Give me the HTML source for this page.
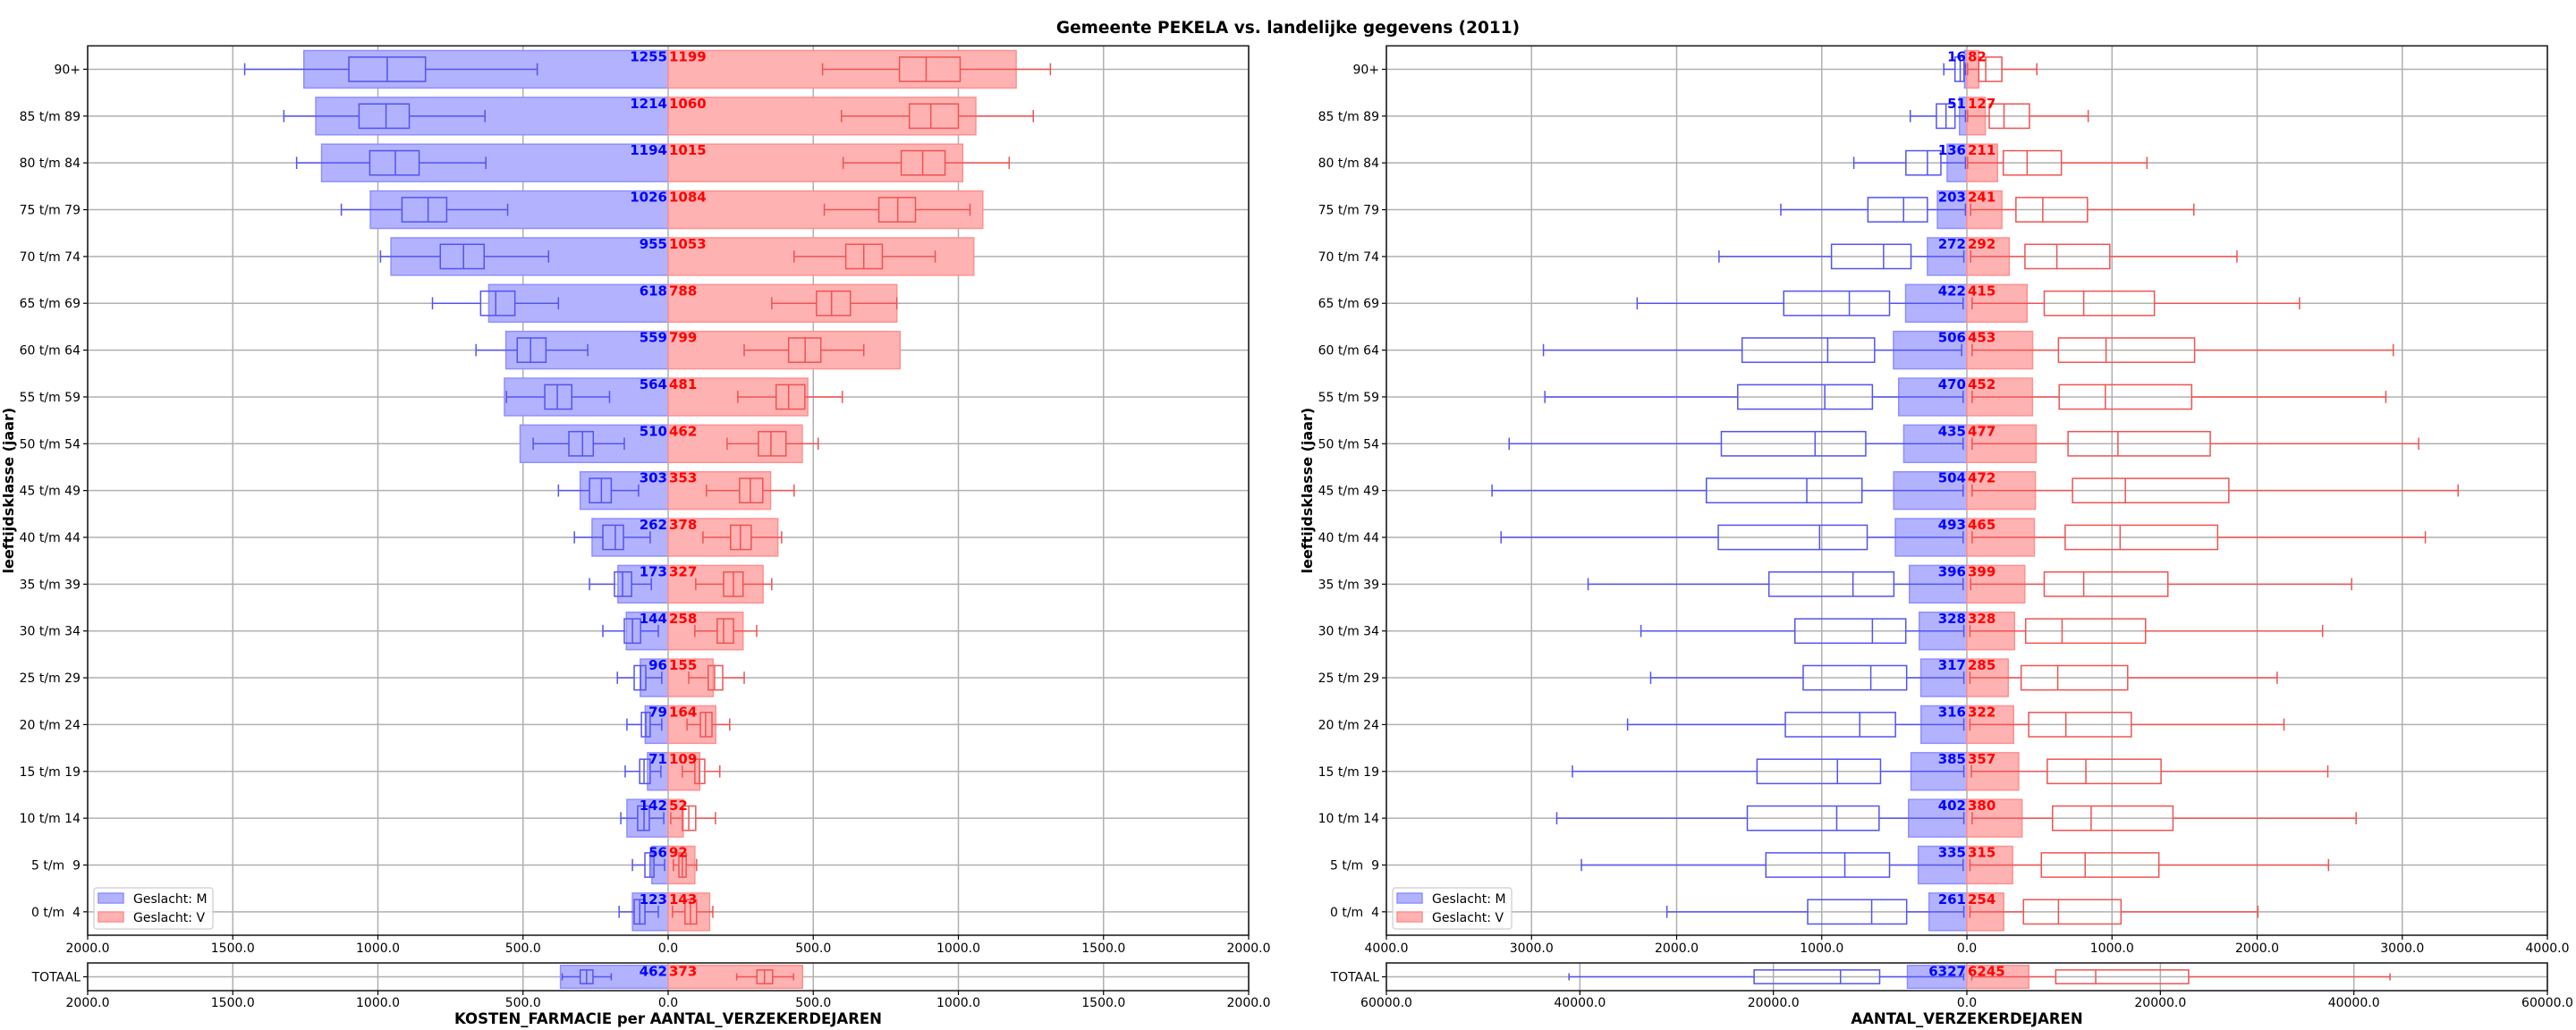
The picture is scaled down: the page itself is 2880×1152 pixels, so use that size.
<!DOCTYPE html>
<html><head><meta charset="utf-8">
<style>
html,body{margin:0;padding:0;background:#fff;}
svg{display:block;font-family:"DejaVu Sans","Liberation Sans",sans-serif;}
.pre{white-space:pre;}
</style></head>
<body>
<svg id="chart" width="2880" height="1152" viewBox="0 0 2880 1152" xmlns="http://www.w3.org/2000/svg">
<text x="1440" y="37" text-anchor="middle" font-size="18.5" font-weight="bold">Gemeente PEKELA vs. landelijke gegevens (2011)</text>
</svg>
<script>
const ages = ['90+','85 t/m 89','80 t/m 84','75 t/m 79','70 t/m 74','65 t/m 69','60 t/m 64','55 t/m 59','50 t/m 54','45 t/m 49','40 t/m 44','35 t/m 39','30 t/m 34','25 t/m 29','20 t/m 24','15 t/m 19','10 t/m 14','5 t/m  9','0 t/m  4'];
const costM = [1255,1214,1194,1026,955,618,559,564,510,303,262,173,144,96,79,71,142,56,123];
const costV = [1199,1060,1015,1084,1053,788,799,481,462,353,378,327,258,155,164,109,52,92,143];
const costBoxM = [[451,836,968,1100,1459],[631,892,972,1065,1324],[628,858,940,1028,1280],[553,763,827,917,1126],[412,634,705,785,991],[378,528,594,646,812],[277,421,474,520,662],[202,332,382,425,557],[151,258,295,342,465],[102,196,230,271,378],[62,154,182,225,323],[58,126,157,185,271],[34,95,123,151,225],[22,77,95,117,175],[22,62,77,92,142],[25,62,83,98,148],[15,65,83,105,163],[12,49,62,80,123],[34,80,98,117,169]];
const costBoxV = [[532,797,889,1006,1317],[597,831,905,1000,1258],[603,803,877,954,1175],[538,726,791,852,1040],[434,612,674,738,920],[357,511,563,628,788],[262,415,472,526,674],[240,372,415,471,600],[203,311,354,406,517],[132,246,283,326,434],[120,215,249,286,391],[95,191,225,258,357],[92,169,191,225,305],[71,138,160,188,262],[65,111,129,151,212],[49,92,108,126,178],[9,49,71,95,163],[18,37,49,62,98],[15,58,77,98,154]];
const countM = [16,51,136,203,272,422,506,470,435,504,493,396,328,317,316,385,402,335,261];
const countV = [82,127,211,241,292,415,453,452,477,472,465,399,328,285,322,357,380,315,254];
const countBoxM = [[10,20,46,82,159],[10,82,144,210,390],[10,179,272,420,779],[10,272,436,682,1282],[21,385,574,933,1708],[26,533,810,1262,2272],[36,636,959,1549,2918],[26,651,979,1579,2908],[26,697,1046,1692,3154],[26,723,1103,1795,3272],[26,687,1015,1713,3210],[26,503,785,1364,2610],[21,421,651,1185,2246],[21,415,662,1128,2179],[21,492,738,1251,2338],[21,595,892,1446,2718],[21,605,897,1513,2826],[26,533,841,1385,2656],[21,415,656,1097,2067]];
const countBoxV = [[5,82,130,241,482],[5,154,256,431,836],[5,251,415,651,1241],[26,338,523,831,1564],[26,400,620,985,1861],[36,533,805,1292,2292],[36,631,959,1569,2938],[36,636,954,1549,2887],[36,697,1041,1677,3113],[36,728,1092,1805,3385],[36,677,1056,1728,3159],[26,533,805,1385,2651],[21,405,656,1231,2451],[21,374,626,1108,2138],[21,426,682,1133,2185],[31,554,820,1338,2487],[36,590,856,1420,2682],[21,513,815,1323,2492],[21,390,631,1062,2005]];
const costTotalBars = [371,463];
const costTotalLabels = [462,373];
const costTotalBoxM = [196,259,281,303,365];
const costTotalBoxV = [236,306,332,360,432];
const countTotalBars = [6150,6400];
const countTotalLabels = [6327,6245];
const countTotalBoxM = [337,9017,13062,21995,41124];
const countTotalBoxV = [506,9185,13315,22921,43736];
const costTicks = [-2000,-1500,-1000,-500,0,500,1000,1500,2000];
const countTicks = [-4000,-3000,-2000,-1000,0,1000,2000,3000,4000];
const countTotalTicks = [-60000,-40000,-20000,0,20000,40000,60000];

const NS='http://www.w3.org/2000/svg';
const svg=document.getElementById('chart');
function el(tag,attrs,parent){const e=document.createElementNS(NS,tag);for(const k in attrs)e.setAttribute(k,attrs[k]);(parent||svg).appendChild(e);return e;}
const BLUE_FILL='#b2b2ff',BLUE_EDGE='#8f8fff',RED_FILL='#ffb2b2',RED_EDGE='#ff9090',BLUE_LINE='#5454ee',RED_LINE='#ee5454';
const MAIN_TOP=51.3,MAIN_BOT=1046,TOT_TOP=1077,TOT_BOT=1108,AXW=1298;
const ROWH=(MAIN_BOT-MAIN_TOP)/ages.length;
const FS=14;
function rowY(i){return MAIN_TOP+(i+0.5)*ROWH;}
function fmt(v){return Math.abs(v).toFixed(1);}

function drawBox(g,xs,y,vals,sign,color,bh,capH,name){
  const b=el('g',{},g);
  
  
  const X=v=>xs(sign*v);
  const st={stroke:color,'stroke-width':1.5,fill:'none'};
  el('line',Object.assign({x1:X(vals[0]),x2:X(vals[1]),y1:y,y2:y},st),b);
  el('line',Object.assign({x1:X(vals[3]),x2:X(vals[4]),y1:y,y2:y},st),b);
  el('line',Object.assign({x1:X(vals[0]),x2:X(vals[0]),y1:y-capH/2,y2:y+capH/2},st),b);
  el('line',Object.assign({x1:X(vals[4]),x2:X(vals[4]),y1:y-capH/2,y2:y+capH/2},st),b);
  const a=Math.min(X(vals[1]),X(vals[3])),w=Math.abs(X(vals[3])-X(vals[1]));
  el('rect',Object.assign({x:a,y:y-bh/2,width:w,height:bh},st),b);
  el('line',Object.assign({x1:X(vals[2]),x2:X(vals[2]),y1:y-bh/2,y2:y+bh/2},st),b);
}

function panel(opt){
  const x0=opt.left,max=opt.max;
  const xs=v=>x0+(v+max)/(2*max)*AXW;
  const g=el('g',{});
  
  
  opt.ticks.forEach(t=>{el('line',{x1:xs(t),x2:xs(t),y1:MAIN_TOP,y2:MAIN_BOT,stroke:'#b0b0b0','stroke-width':1.5},g);});
  ages.forEach((a,i)=>{el('line',{x1:x0,x2:x0+AXW,y1:rowY(i),y2:rowY(i),stroke:'#b0b0b0','stroke-width':1.5},g);});
  const bh=ROWH*0.8;
  ages.forEach((a,i)=>{
    const y=rowY(i);
    const bm=el('rect',{x:xs(-opt.barsM[i]),y:y-bh/2,width:xs(0)-xs(-opt.barsM[i]),height:bh,fill:BLUE_FILL,stroke:BLUE_EDGE,'stroke-width':1.5},g);
    
    
    const bv=el('rect',{x:xs(0),y:y-bh/2,width:xs(opt.barsV[i])-xs(0),height:bh,fill:RED_FILL,stroke:RED_EDGE,'stroke-width':1.5},g);
    
    
  });
  ages.forEach((a,i)=>{
    const y=rowY(i);
    drawBox(g,xs,y,opt.boxM[i],-1,BLUE_LINE,ROWH*0.52,ROWH*0.26,'boxplot-m-'+i);
    drawBox(g,xs,y,opt.boxV[i],1,RED_LINE,ROWH*0.52,ROWH*0.26,'boxplot-v-'+i);
  });
  ages.forEach((a,i)=>{
    const y=rowY(i)-bh/2+12;
    const tm=el('text',{x:xs(0)-1,y:y,'text-anchor':'end','font-size':FS+1,'font-weight':'bold',fill:'#0000ff'},g);
    tm.textContent=opt.barsM[i];
    
    
    const tv=el('text',{x:xs(0)+1,y:y,'font-size':FS+1,'font-weight':'bold',fill:'#ff0000'},g);
    tv.textContent=opt.barsV[i];
    
    
    const yl=el('text',{x:x0-8,y:rowY(i)+5,'text-anchor':'end','font-size':FS,'class':'pre'},g);
    yl.textContent=a;
    
    
    el('line',{x1:x0-5,x2:x0,y1:rowY(i),y2:rowY(i),stroke:'#000','stroke-width':1.2},g);
  });
  el('rect',{x:x0,y:MAIN_TOP,width:AXW,height:MAIN_BOT-MAIN_TOP,fill:'none',stroke:'#222','stroke-width':1.6},g);
  opt.ticks.forEach(t=>{
    el('line',{x1:xs(t),x2:xs(t),y1:MAIN_BOT,y2:MAIN_BOT+5,stroke:'#000','stroke-width':1.2},g);
    const tl=el('text',{x:xs(t),y:MAIN_BOT+19,'text-anchor':'middle','font-size':FS},g);
    tl.textContent=fmt(t);
    
    
  });
  const yt=el('text',{transform:`translate(${opt.ylabX},${(MAIN_TOP+MAIN_BOT)/2}) rotate(-90)`,'text-anchor':'middle','font-size':16,'font-weight':'bold'},g);
  yt.textContent='leeftijdsklasse (jaar)';
  
  
  const lg=el('g',{},g);
  
  
  const lx=x0+7,ly=993;
  el('rect',{x:lx,y:ly,width:133,height:46,rx:3,fill:'#fff','fill-opacity':0.85,stroke:'#cccccc','stroke-width':1.2},lg);
  el('rect',{x:lx+5,y:ly+6,width:28,height:11,fill:BLUE_FILL,stroke:BLUE_EDGE,'stroke-width':1.5},lg);
  el('rect',{x:lx+5,y:ly+27,width:28,height:11,fill:RED_FILL,stroke:RED_EDGE,'stroke-width':1.5},lg);
  const l1=el('text',{x:lx+44,y:ly+17,'font-size':FS},lg);l1.textContent='Geslacht: M';
  
  
  const l2=el('text',{x:lx+44,y:ly+38,'font-size':FS},lg);l2.textContent='Geslacht: V';
  
  

  const tmax=opt.tmax;
  const ts=v=>x0+(v+tmax)/(2*tmax)*AXW;
  const tg=el('g',{},g);
  
  
  const ty=(TOT_TOP+TOT_BOT)/2;
  opt.tticks.forEach(t=>{el('line',{x1:ts(t),x2:ts(t),y1:TOT_TOP,y2:TOT_BOT,stroke:'#b0b0b0','stroke-width':1.5},tg);});
  el('line',{x1:x0,x2:x0+AXW,y1:ty,y2:ty,stroke:'#b0b0b0','stroke-width':1.5},tg);
  const tbh=25.6;
  const tbm=el('rect',{x:ts(-opt.tbars[0]),y:ty-tbh/2,width:ts(0)-ts(-opt.tbars[0]),height:tbh,fill:BLUE_FILL,stroke:BLUE_EDGE,'stroke-width':1.5},tg);
  
  
  const tbv=el('rect',{x:ts(0),y:ty-tbh/2,width:ts(opt.tbars[1])-ts(0),height:tbh,fill:RED_FILL,stroke:RED_EDGE,'stroke-width':1.5},tg);
  
  
  drawBox(tg,ts,ty,opt.tboxM,-1,BLUE_LINE,15.3,8,'totaal-boxplot-m');
  drawBox(tg,ts,ty,opt.tboxV,1,RED_LINE,15.3,8,'totaal-boxplot-v');
  const t1=el('text',{x:ts(0)-1,y:ty-tbh/2+12,'text-anchor':'end','font-size':FS+1,'font-weight':'bold',fill:'#0000ff'},tg);t1.textContent=opt.tlabels[0];
  
  
  const t2=el('text',{x:ts(0)+1,y:ty-tbh/2+12,'font-size':FS+1,'font-weight':'bold',fill:'#ff0000'},tg);t2.textContent=opt.tlabels[1];
  
  
  const tl=el('text',{x:x0-8,y:ty+5,'text-anchor':'end','font-size':FS},tg);tl.textContent='TOTAAL';
  
  
  el('line',{x1:x0-5,x2:x0,y1:ty,y2:ty,stroke:'#000','stroke-width':1.2},tg);
  el('rect',{x:x0,y:TOT_TOP,width:AXW,height:TOT_BOT-TOT_TOP,fill:'none',stroke:'#222','stroke-width':1.6},tg);
  opt.tticks.forEach(t=>{
    el('line',{x1:ts(t),x2:ts(t),y1:TOT_BOT,y2:TOT_BOT+5,stroke:'#000','stroke-width':1.2},tg);
    const q=el('text',{x:ts(t),y:TOT_BOT+18,'text-anchor':'middle','font-size':FS},tg);
    q.textContent=fmt(t);
    
    
  });
  const xt=el('text',{x:x0+AXW/2,y:1145,'text-anchor':'middle','font-size':16.5,'font-weight':'bold'},g);
  xt.textContent=opt.xlabel;
  
  
}

panel({name:'cost-panel',left:98,max:2000,ticks:costTicks,barsM:costM,barsV:costV,boxM:costBoxM,boxV:costBoxV,
  tmax:2000,tticks:costTicks,tbars:costTotalBars,tlabels:costTotalLabels,tboxM:costTotalBoxM,tboxV:costTotalBoxV,
  xlabel:'KOSTEN_FARMACIE per AANTAL_VERZEKERDEJAREN',ylabX:15});
panel({name:'count-panel',left:1550,max:4000,ticks:countTicks,barsM:countM,barsV:countV,boxM:countBoxM,boxV:countBoxV,
  tmax:60000,tticks:countTotalTicks,tbars:countTotalBars,tlabels:countTotalLabels,tboxM:countTotalBoxM,tboxV:countTotalBoxV,
  xlabel:'AANTAL_VERZEKERDEJAREN',ylabX:1467});
</script>
</body></html>
